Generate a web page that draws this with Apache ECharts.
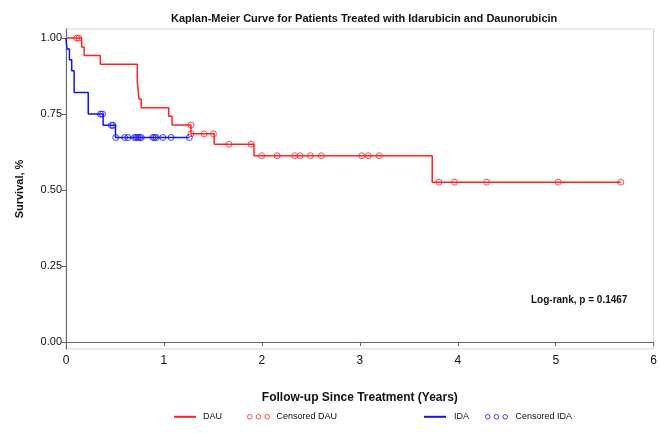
<!DOCTYPE html>
<html>
<head>
<meta charset="utf-8">
<script src="https://cdn.jsdelivr.net/npm/echarts@6/dist/echarts.min.js"></script>
<style>html,body{margin:0;padding:0;background:#fff;}#c{width:660px;height:433px;}</style>
</head>
<body>
<div id="c"></div>
<script>
// ---- Data ----
var dauTimes = [0, 0.16, 0.185, 0.35, 0.728, 0.745, 0.768, 1.049, 1.083, 1.276, 1.513, 1.919, 3.739, 5.665];
var dauSurv  = [1, 0.971, 0.943, 0.914, 0.857, 0.800, 0.771, 0.743, 0.714, 0.685, 0.651, 0.613, 0.526, 0.526];
var dauCensorTimes = [0.11, 0.13, 1.276, 1.276, 1.41, 1.506, 1.665, 1.89, 1.997, 2.156, 2.335, 2.39, 2.495, 2.606, 3.02, 3.086, 3.198, 3.807, 3.966, 4.294, 5.025, 5.665];
var dauCensorSurv  = [1, 1, 0.714, 0.685, 0.685, 0.685, 0.651, 0.651, 0.613, 0.613, 0.613, 0.613, 0.613, 0.613, 0.613, 0.613, 0.613, 0.526, 0.526, 0.526, 0.526, 0.526];

var idaTimes = [0, 0.01, 0.035, 0.058, 0.083, 0.227, 0.379, 0.505, 1.259];
var idaSurv  = [1, 0.964, 0.929, 0.893, 0.821, 0.750, 0.713, 0.673, 0.673];
var idaCensorTimes = [0.352, 0.372, 0.464, 0.48, 0.508, 0.599, 0.632, 0.70, 0.717, 0.734, 0.751, 0.768, 0.886, 0.904, 0.921, 0.988, 1.073, 1.259];
var idaCensorSurv  = [0.75, 0.75, 0.713, 0.713, 0.673, 0.673, 0.673, 0.673, 0.673, 0.673, 0.673, 0.673, 0.673, 0.673, 0.673, 0.673, 0.673, 0.673];

var xTicks = [0, 1, 2, 3, 4, 5, 6];
var yTicks = [0, 0.25, 0.5, 0.75, 1];

var titleText = 'Kaplan-Meier Curve for Patients Treated with Idarubicin and Daunorubicin';
var xName = 'Follow-up Since Treatment (Years)';
var yName = 'Survival, %';
var noteText = 'Log-rank, p = 0.1467';

// ---- Build ----
function zip(a, b) { return a.map(function (v, i) { return [v, b[i]]; }); }
var FONT = '"Liberation Sans", Arial, sans-serif';
var RED = '#ff2222', BLUE = '#1010ff';
var ringsPath = 'path://M1,4a2.5,2.5 0 1,0 5,0a2.5,2.5 0 1,0 -5,0M10.5,4a2.5,2.5 0 1,0 5,0a2.5,2.5 0 1,0 -5,0M20,4a2.5,2.5 0 1,0 5,0a2.5,2.5 0 1,0 -5,0';

var chart = echarts.init(document.getElementById('c'), null, {renderer: 'canvas'});
chart.setOption({
  animation: false,
  backgroundColor: '#fff',
  textStyle: {fontFamily: FONT},
  title: [
    {text: titleText, left: 166, top: 8,
     textStyle: {fontSize: 11, fontWeight: 'bold', color: '#111', fontFamily: FONT}},
    {text: noteText, left: 526, top: 290,
     textStyle: {fontSize: 10, fontWeight: 'bold', color: '#111', fontFamily: FONT}}
  ],
  grid: {left: 66, right: 2, top: 29, bottom: 84, show: true, borderColor: '#d4d4d4', borderWidth: 1},
  xAxis: {
    type: 'value', min: 0, max: 6, interval: 1,
    name: xName, nameLocation: 'middle', nameGap: 43,
    nameTextStyle: {fontSize: 12, fontWeight: 'bold', color: '#111', fontFamily: FONT},
    axisLine: {show: true, lineStyle: {color: '#666', width: 1}},
    axisTick: {show: true, length: 4, lineStyle: {color: '#666'}, customValues: xTicks},
    axisLabel: {fontSize: 12, color: '#111', margin: 6, customValues: xTicks, fontFamily: FONT},
    splitLine: {show: false}
  },
  yAxis: {
    type: 'value', min: -0.023, max: 1.03,
    name: yName, nameLocation: 'middle', nameGap: 41,
    nameTextStyle: {fontSize: 11, fontWeight: 'bold', color: '#111', fontFamily: FONT},
    axisLine: {show: true, lineStyle: {color: '#666', width: 1}},
    axisTick: {show: true, length: 4, lineStyle: {color: '#666'}, customValues: yTicks},
    axisLabel: {fontSize: 11, color: '#111', margin: 4, customValues: yTicks, fontFamily: FONT,
      formatter: function (v) { return v.toFixed(2); }},
    splitLine: {show: false}
  },
  legend: [
    {left: 173, top: 412, padding: 0, itemWidth: 22, itemHeight: 8, itemGap: 23,
     textStyle: {fontSize: 9, color: '#111', fontFamily: FONT, padding: [0, 0, 0, 2]},
     data: [{name: 'DAU', itemStyle: {opacity: 0}},
            {name: 'Censored DAU', icon: ringsPath,
             itemStyle: {color: 'none', borderColor: RED, borderWidth: 1}}]},
    {left: 423, top: 412, padding: 0, itemWidth: 22, itemHeight: 8, itemGap: 14,
     textStyle: {fontSize: 9, color: '#111', fontFamily: FONT, padding: [0, 0, 0, 3]},
     data: [{name: 'IDA', itemStyle: {opacity: 0}},
            {name: 'Censored IDA', icon: ringsPath,
             itemStyle: {color: 'none', borderColor: BLUE, borderWidth: 1}}]}
  ],
  series: [
    {name: 'DAU', type: 'line', step: 'end', symbol: 'none', data: zip(dauTimes, dauSurv),
     lineStyle: {color: RED, width: 1.5}, itemStyle: {color: RED}, z: 3},
    {name: 'Censored DAU', type: 'scatter', symbol: 'circle', symbolSize: 6,
     data: zip(dauCensorTimes, dauCensorSurv),
     itemStyle: {color: 'rgba(255,255,255,0)', borderColor: RED, borderWidth: 1}, z: 4},
    {name: 'IDA', type: 'line', step: 'end', symbol: 'none', data: zip(idaTimes, idaSurv),
     lineStyle: {color: BLUE, width: 1.5}, itemStyle: {color: BLUE}, z: 3},
    {name: 'Censored IDA', type: 'scatter', symbol: 'circle', symbolSize: 6,
     data: zip(idaCensorTimes, idaCensorSurv),
     itemStyle: {color: 'rgba(255,255,255,0)', borderColor: BLUE, borderWidth: 1}, z: 4}
  ]
});
</script>
</body>
</html>
